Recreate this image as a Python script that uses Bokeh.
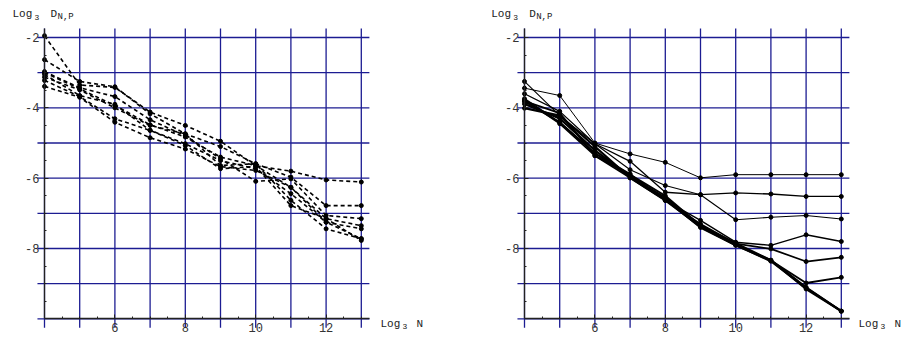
from bokeh.plotting import figure
from bokeh.layouts import row
from bokeh.models import Range1d, FixedTicker, Label
from bokeh.embed import file_html
from bokeh.resources import INLINE

# ---------------- data ----------------
log_n = [4, 5, 6, 7, 8, 9, 10, 11, 12, 13]

# left panel (dashed curves)
dash_1 = [-1.95, -3.35, -3.42, -4.12, -4.50, -4.95, -5.65, -5.80, -6.05, -6.11]
dash_2 = [-2.63, -3.25, -3.40, -4.17, -4.74, -5.10, -5.59, -5.97, -6.78, -6.78]
dash_3 = [-2.97, -3.43, -3.68, -4.34, -4.79, -5.45, -6.09, -6.02, -7.06, -7.15]
dash_4 = [-3.00, -3.46, -3.93, -4.48, -4.83, -5.40, -5.64, -6.26, -7.15, -7.35]
dash_5 = [-3.05, -3.65, -3.90, -4.64, -5.02, -5.50, -5.73, -6.44, -7.25, -7.44]
dash_6 = [-3.13, -3.49, -4.00, -4.50, -4.74, -5.64, -5.59, -6.63, -7.44, -7.72]
dash_7 = [-3.22, -3.68, -4.31, -4.64, -5.07, -5.73, -5.67, -6.78, -7.15, -7.77]
dash_8 = [-3.39, -3.70, -4.41, -4.85, -5.17, -5.67, -5.78, -6.26, -7.25, -7.72]

# right panel (solid curves)
solid_1 = [-3.44, -3.65, -5.00, -5.31, -5.55, -5.99, -5.90, -5.90, -5.90, -5.90]
solid_2 = [-3.60, -4.10, -5.02, -5.52, -6.40, -6.47, -6.42, -6.45, -6.52, -6.52]
solid_3 = [-3.25, -4.22, -5.02, -5.76, -6.21, -6.47, -7.18, -7.11, -7.06, -7.16]
solid_4 = [-3.74, -4.41, -5.29, -5.88, -6.63, -7.20, -7.82, -7.91, -7.61, -7.80]
solid_5 = [-3.77, -4.45, -5.36, -5.99, -6.63, -7.30, -7.86, -8.01, -8.37, -8.25]
solid_6 = [-3.82, -4.41, -5.29, -5.95, -6.55, -7.35, -7.88, -8.34, -8.98, -8.82]
solid_7 = [-3.89, -4.30, -5.21, -5.95, -6.60, -7.40, -7.91, -8.34, -9.15, -9.78]
solid_8 = [-4.01, -4.22, -5.10, -5.99, -6.63, -7.38, -7.90, -8.36, -9.12, -9.78]
solid_9 = [-3.81, -4.15, -5.36, -5.90, -6.50, -7.35, -7.85, -8.33, -9.10, -9.78]

x_major = [6, 8, 10, 12]
x_tick_labels = ["6", "8", "10", "12"]
y_major = [-8, -6, -4, -2]
y_tick_labels = ["-8", "-6", "-4", "-2"]
x_grid = [4, 5, 6, 7, 8, 9, 10, 11, 12, 13]
y_grid = [-10, -9, -8, -7, -6, -5, -4, -3, -2]
x_minor = [4.5, 5, 5.5, 6.5, 7, 7.5, 8.5, 9, 9.5, 10.5, 11, 11.5, 12.5, 13]
y_minor = [-9.5, -9, -8.5, -7.5, -7, -6.5, -5.5, -5, -4.5, -3.5, -3, -2.5]

# plot region (Mathematica PlotRange incl. padding) and axes origin
X_LO, X_HI = 3.8, 13.23
Y_LO, Y_HI = -10.25, -1.744
X_ORIGIN, Y_ORIGIN = 4, -10

dash_series = [dash_1, dash_2, dash_3, dash_4, dash_5, dash_6, dash_7, dash_8]
solid_series = [solid_1, solid_2, solid_3, solid_4, solid_5, solid_6, solid_7, solid_8, solid_9]
solid_widths = [1.0, 1.3, 1.1, 1.4, 1.7, 1.9, 2.2, 2.2, 2.0]

FONT = "Liberation Mono"
GRID = "#1c1c92"
SX = 35.2    # px per x unit
SY = 35.17   # px per y unit
H = 337


def add_text(p, x, y, text, size, dx=0, dy=0):
    p.add_layout(Label(x=x, y=y, text=text, x_offset=dx, y_offset=dy,
                       text_font=FONT, text_font_size=f"{size}px",
                       text_color="#222222", text_baseline="alphabetic"))


def make_panel(width, origin_px):
    # whole canvas is the frame so that nothing drawn around the axes is clipped
    x0 = X_ORIGIN - origin_px / SX
    x1 = X_ORIGIN + (width - origin_px) / SX
    y1 = -2 + 37 / SY
    y0 = y1 - H / SY
    p = figure(width=width, height=H,
               x_range=Range1d(x0, x1), y_range=Range1d(y0, y1),
               output_backend="svg", toolbar_location=None,
               min_border=0, min_border_left=0, min_border_right=0,
               min_border_top=0, min_border_bottom=0)
    p.outline_line_color = None
    p.background_fill_color = "white"
    p.border_fill_color = "white"
    p.xgrid.visible = False
    p.ygrid.visible = False

    # grid lines limited to the plot region
    p.segment(x0=x_grid, y0=[Y_LO] * len(x_grid), x1=x_grid, y1=[Y_HI] * len(x_grid),
              line_color=GRID, line_width=1.3, level="underlay")
    p.segment(x0=[X_LO] * len(y_grid), y0=y_grid, x1=[X_HI] * len(y_grid), y1=y_grid,
              line_color=GRID, line_width=1.3, level="underlay")

    p.xaxis.fixed_location = Y_ORIGIN
    p.yaxis.fixed_location = X_ORIGIN
    p.xaxis.bounds = (X_ORIGIN, X_HI)
    p.yaxis.bounds = (Y_ORIGIN, Y_HI)
    p.xaxis.ticker = FixedTicker(ticks=x_major, minor_ticks=x_minor)
    p.yaxis.ticker = FixedTicker(ticks=y_major, minor_ticks=y_minor)
    p.xaxis.major_label_overrides = dict(zip(x_major, x_tick_labels))
    p.yaxis.major_label_overrides = dict(zip(y_major, y_tick_labels))
    for ax in (p.xaxis, p.yaxis):
        ax.axis_line_color = "#222222"
        ax.axis_line_width = 1.3
        ax.major_tick_line_color = "#222222"
        ax.minor_tick_line_color = "#222222"
        ax.major_tick_in = 4
        ax.major_tick_out = 0
        ax.minor_tick_in = 2
        ax.minor_tick_out = 0
        ax.major_label_text_font = FONT
        ax.major_label_text_font_size = "12px"
        ax.major_label_text_color = "#333333"
    p.xaxis.major_label_standoff = 4
    p.yaxis.major_label_standoff = 5
    return p


# left panel
p1 = make_panel(470, 44)
for s in dash_series:
    p1.line(log_n, s, line_color="black", line_width=1.6, line_dash="4 3")
    p1.scatter(log_n, s, size=4, color="black")

# right panel
p2 = make_panel(437, 54)
for s, w in zip(solid_series, solid_widths):
    p2.line(log_n, s, line_color="black", line_width=w)
    p2.scatter(log_n, s, size=4, color="black")

# axis titles (Mathematica-style, at the axis ends)
for p, xs, xn in ((p1, 3.091, 13.545), (p2, 3.054, 13.489)):
    add_text(p, xs, -1.332, "Log", 11)
    add_text(p, xs, -1.332, "3", 8, dx=22, dy=-3)
    add_text(p, xs, -1.332, "D", 11, dx=38)
    add_text(p, xs, -1.332, "N,P", 9, dx=45, dy=-3)
    add_text(p, xn, -10.132, "Log", 11)
    add_text(p, xn, -10.132, "3", 8, dx=22, dy=-3)
    add_text(p, xn, -10.132, "N", 11, dx=36)

layout = row(p1, p2, spacing=0)
open("out.html", "w").write(file_html(layout, INLINE))
